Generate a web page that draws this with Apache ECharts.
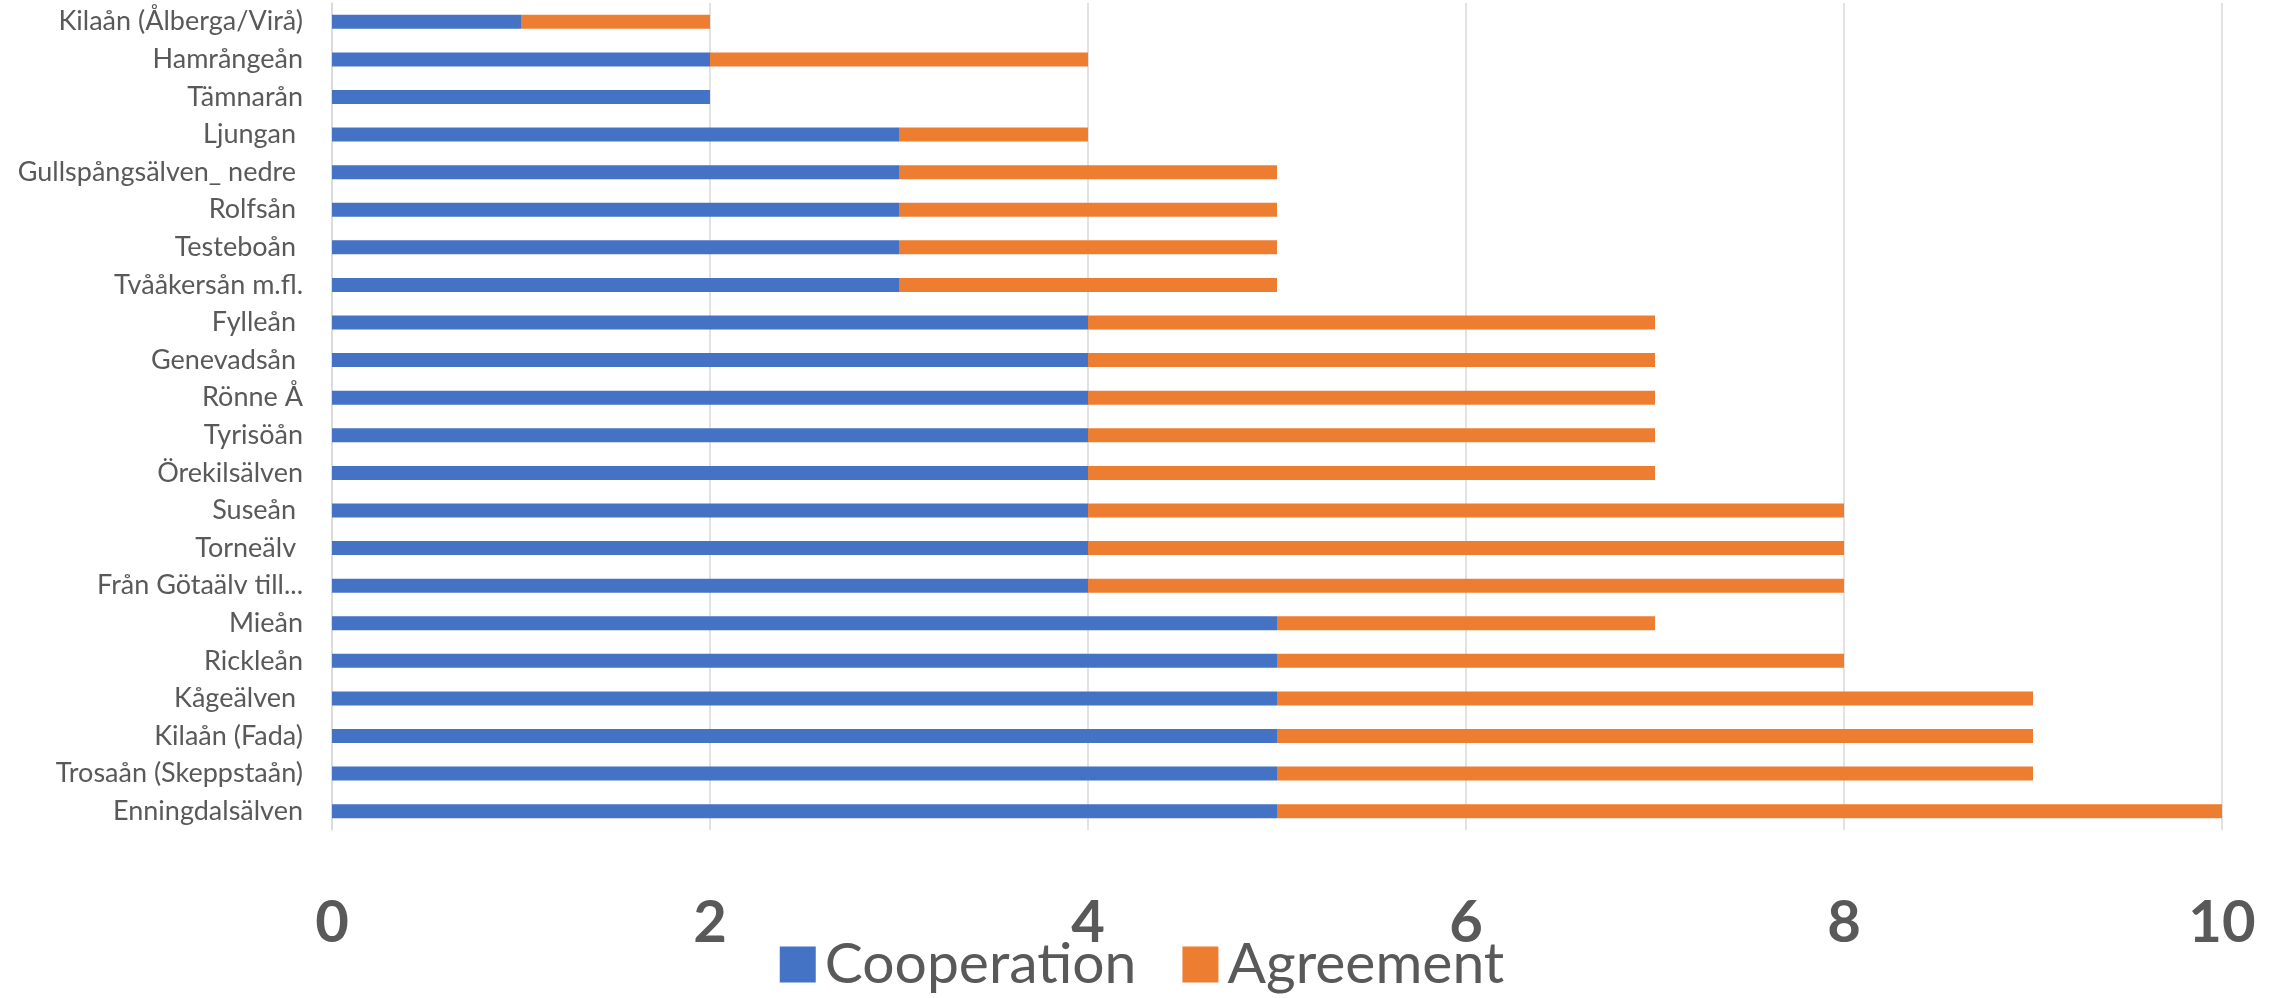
<!DOCTYPE html>
<html>
<head>
<meta charset="utf-8">
<script src="https://cdn.jsdelivr.net/npm/echarts@6/dist/echarts.min.js"></script>
<style>
html,body{margin:0;padding:0;background:#fff;}
#chart{width:2284px;height:998px;}
</style>
</head>
<body>
<div id="chart"></div>
<script>
const categories = [
  "Kilaån (Ålberga/Virå)",
  "Hamrångeån",
  "Tämnarån",
  "Ljungan ",
  "Gullspångsälven_ nedre ",
  "Rolfsån ",
  "Testeboån ",
  "Tvååkersån m.fl.",
  "Fylleån ",
  "Genevadsån ",
  "Rönne Å",
  "Tyrisöån",
  "Örekilsälven",
  "Suseån ",
  "Torneälv ",
  "Från Götaälv till...",
  "Mieån",
  "Rickleån",
  "Kågeälven ",
  "Kilaån (Fada)",
  "Trosaån (Skeppstaån)",
  "Enningdalsälven"
];
const cooperation = [1,2,2,3,3,3,3,3,4,4,4,4,4,4,4,4,5,5,5,5,5,5];
const agreement   = [1,2,0,1,2,2,2,2,3,3,3,3,3,4,4,4,2,3,4,4,4,5];
const xTicks = [0,2,4,6,8,10];

const chart = echarts.init(document.getElementById('chart'));
chart.setOption({
  animation: false,
  backgroundColor: '#ffffff',
  grid: { left: 332, right: 62, top: 3, height: 827, containLabel: false },
  legend: {
    bottom: 0,
    left: 'center',
    itemWidth: 36,
    itemHeight: 36,
    itemGap: 46,
    icon: 'rect',
    textStyle: { fontFamily: 'Lato', fontSize: 57, color: '#595959', padding: [0,0,0,4] },
    data: ['Cooperation', 'Agreement']
  },
  xAxis: {
    type: 'value',
    min: xTicks[0],
    max: xTicks[xTicks.length - 1],
    interval: 2,
    axisLine: { show: false },
    axisTick: { show: false },
    splitLine: { show: true, lineStyle: { color: '#d9d9d9', width: 1.5 } },
    axisLabel: {
      fontFamily: 'Lato', fontWeight: 'bold', fontSize: 58, color: '#595959',
      margin: 64
    }
  },
  yAxis: {
    type: 'category',
    inverse: true,
    data: categories,
    axisLine: { show: true, lineStyle: { color: '#d9d9d9', width: 1.5 } },
    axisTick: { show: false },
    axisLabel: {
      fontFamily: 'Lato', fontSize: 27, color: '#595959', margin: 29,
      interval: 0
    }
  },
  series: [
    {
      name: 'Cooperation', type: 'bar', stack: 'total',
      data: cooperation, barWidth: 14,
      itemStyle: { color: '#4472c4' }
    },
    {
      name: 'Agreement', type: 'bar', stack: 'total',
      data: agreement, barWidth: 14,
      itemStyle: { color: '#ed7d31' }
    }
  ]
});
</script>
</body>
</html>
